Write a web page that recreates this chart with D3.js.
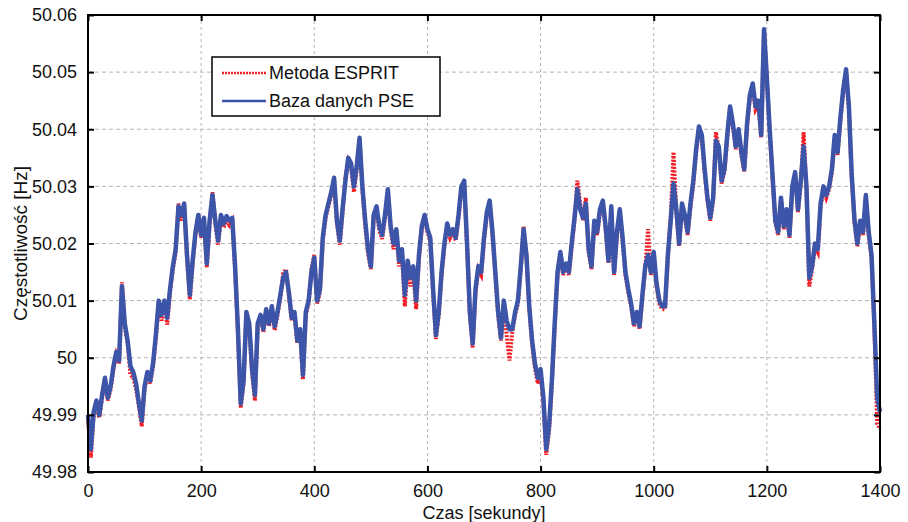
<!DOCTYPE html>
<html>
<head>
<meta charset="utf-8">
<script src="https://cdn.jsdelivr.net/npm/d3@7"></script>
<style>
  body { margin: 0; background: #fff; }
  svg { display: block; font-family: "Liberation Sans", Arial, sans-serif; }
</style>
</head>
<body>
<svg id="chart" width="908" height="522"></svg>
<script>
// czas co 5 s, od 0 do 1400
const timeStep = 5;

// Baza danych PSE [Hz]
const pseValues = [
  49.9900, 49.9840, 49.9905, 49.9925, 49.9900, 49.9935, 49.9965, 49.9930, 49.9950, 49.9985,
  50.0010, 49.9995, 50.0125, 50.0060, 50.0030, 49.9985, 49.9975, 49.9955, 49.9920, 49.9890,
  49.9950, 49.9975, 49.9960, 49.9990, 50.0040, 50.0100, 50.0075, 50.0100, 50.0070, 50.0120,
  50.0160, 50.0190, 50.0265, 50.0250, 50.0270, 50.0180, 50.0110, 50.0170, 50.0220, 50.0250,
  50.0215, 50.0245, 50.0165, 50.0240, 50.0285, 50.0240, 50.0205, 50.0250, 50.0235, 50.0248,
  50.0240, 50.0245, 50.0160, 50.0050, 49.9920, 49.9960, 50.0080, 50.0060, 49.9980, 49.9935,
  50.0060, 50.0075, 50.0050, 50.0085, 50.0060, 50.0090, 50.0055, 50.0080, 50.0110, 50.0140,
  50.0150, 50.0115, 50.0070, 50.0080, 50.0030, 50.0050, 49.9970, 50.0080, 50.0100, 50.0150,
  50.0175, 50.0100, 50.0120, 50.0210, 50.0250, 50.0270, 50.0290, 50.0315, 50.0240, 50.0205,
  50.0260, 50.0310, 50.0350, 50.0340, 50.0300, 50.0335, 50.0385, 50.0300, 50.0240, 50.0190,
  50.0160, 50.0250, 50.0265, 50.0230, 50.0215, 50.0250, 50.0295, 50.0230, 50.0200, 50.0225,
  50.0170, 50.0190, 50.0110, 50.0170, 50.0140, 50.0160, 50.0100, 50.0180, 50.0230, 50.0250,
  50.0225, 50.0210, 50.0120, 50.0040, 50.0080, 50.0150, 50.0200, 50.0235, 50.0215, 50.0225,
  50.0210, 50.0250, 50.0300, 50.0310, 50.0200, 50.0080, 50.0025, 50.0120, 50.0160, 50.0150,
  50.0210, 50.0255, 50.0275, 50.0220, 50.0150, 50.0080, 50.0035, 50.0100, 50.0065, 50.0050,
  50.0050, 50.0080, 50.0100, 50.0160, 50.0225, 50.0180, 50.0090, 50.0030, 49.9990, 49.9965,
  49.9980, 49.9930, 49.9840, 49.9880, 49.9960, 50.0060, 50.0150, 50.0185, 50.0150, 50.0165,
  50.0150, 50.0200, 50.0245, 50.0295, 50.0260, 50.0245, 50.0270, 50.0190, 50.0160, 50.0240,
  50.0220, 50.0260, 50.0275, 50.0230, 50.0170, 50.0265, 50.0150, 50.0220, 50.0260, 50.0210,
  50.0150, 50.0120, 50.0095, 50.0060, 50.0080, 50.0055, 50.0110, 50.0160, 50.0180, 50.0150,
  50.0185, 50.0130, 50.0100, 50.0090, 50.0090, 50.0180, 50.0240, 50.0305, 50.0260, 50.0200,
  50.0270, 50.0250, 50.0220, 50.0270, 50.0310, 50.0365, 50.0405, 50.0390, 50.0330, 50.0280,
  50.0245, 50.0280, 50.0380, 50.0370, 50.0310, 50.0330, 50.0390, 50.0440, 50.0410, 50.0370,
  50.0400, 50.0360, 50.0330, 50.0410, 50.0460, 50.0480, 50.0440, 50.0450, 50.0390, 50.0575,
  50.0490, 50.0400, 50.0320, 50.0240, 50.0220, 50.0280, 50.0230, 50.0260, 50.0215, 50.0300,
  50.0325, 50.0260, 50.0310, 50.0370, 50.0300, 50.0140, 50.0160, 50.0200, 50.0190, 50.0270,
  50.0300, 50.0285, 50.0300, 50.0330, 50.0390, 50.0360, 50.0420, 50.0470, 50.0505, 50.0440,
  50.0320, 50.0240, 50.0200, 50.0240, 50.0220, 50.0285, 50.0220, 50.0180, 50.0060, 49.9930,
  49.9905
];

// Metoda ESPRIT [Hz]
const espritValues = [
  49.9895, 49.9825, 49.9900, 49.9915, 49.9895, 49.9930, 49.9960, 49.9925, 49.9945, 49.9980,
  50.0005, 49.9990, 50.0132, 50.0055, 50.0025, 49.9970, 49.9965, 49.9945, 49.9915, 49.9880,
  49.9945, 49.9970, 49.9955, 49.9985, 50.0035, 50.0095, 50.0065, 50.0095, 50.0058, 50.0115,
  50.0155, 50.0185, 50.0270, 50.0240, 50.0265, 50.0175, 50.0102, 50.0165, 50.0215, 50.0245,
  50.0210, 50.0240, 50.0158, 50.0235, 50.0290, 50.0235, 50.0198, 50.0245, 50.0228, 50.0240,
  50.0232, 50.0240, 50.0155, 50.0045, 49.9912, 49.9955, 50.0075, 50.0055, 49.9975, 49.9925,
  50.0055, 50.0070, 50.0045, 50.0080, 50.0055, 50.0085, 50.0048, 50.0075, 50.0105, 50.0148,
  50.0155, 50.0110, 50.0065, 50.0072, 50.0025, 50.0045, 49.9962, 50.0075, 50.0095, 50.0155,
  50.0180, 50.0095, 50.0115, 50.0205, 50.0245, 50.0265, 50.0285, 50.0310, 50.0235, 50.0198,
  50.0255, 50.0315, 50.0345, 50.0335, 50.0290, 50.0330, 50.0380, 50.0295, 50.0232, 50.0182,
  50.0155, 50.0245, 50.0260, 50.0222, 50.0208, 50.0245, 50.0290, 50.0225, 50.0190, 50.0218,
  50.0160, 50.0182, 50.0090, 50.0160, 50.0125, 50.0150, 50.0085, 50.0172, 50.0225, 50.0245,
  50.0220, 50.0205, 50.0115, 50.0033, 50.0075, 50.0145, 50.0195, 50.0228, 50.0210, 50.0220,
  50.0205, 50.0245, 50.0295, 50.0305, 50.0195, 50.0075, 50.0018, 50.0115, 50.0155, 50.0145,
  50.0205, 50.0250, 50.0270, 50.0215, 50.0145, 50.0075, 50.0030, 50.0095, 50.0040, 49.9995,
  50.0045, 50.0075, 50.0095, 50.0155, 50.0230, 50.0175, 50.0085, 50.0025, 49.9982, 49.9955,
  49.9972, 49.9922, 49.9830, 49.9872, 49.9955, 50.0055, 50.0145, 50.0180, 50.0145, 50.0160,
  50.0145, 50.0195, 50.0240, 50.0310, 50.0270, 50.0240, 50.0280, 50.0185, 50.0155, 50.0235,
  50.0215, 50.0255, 50.0270, 50.0225, 50.0165, 50.0260, 50.0145, 50.0215, 50.0255, 50.0205,
  50.0145, 50.0115, 50.0090, 50.0055, 50.0075, 50.0050, 50.0105, 50.0155, 50.0225, 50.0145,
  50.0180, 50.0125, 50.0095, 50.0085, 50.0085, 50.0175, 50.0245, 50.0360, 50.0255, 50.0195,
  50.0265, 50.0245, 50.0215, 50.0265, 50.0305, 50.0360, 50.0400, 50.0385, 50.0325, 50.0275,
  50.0240, 50.0275, 50.0395, 50.0365, 50.0305, 50.0325, 50.0385, 50.0435, 50.0405, 50.0365,
  50.0395, 50.0355, 50.0325, 50.0405, 50.0455, 50.0475, 50.0435, 50.0445, 50.0385, 50.0570,
  50.0485, 50.0395, 50.0315, 50.0235, 50.0215, 50.0275, 50.0225, 50.0255, 50.0210, 50.0295,
  50.0320, 50.0255, 50.0305, 50.0395, 50.0295, 50.0125, 50.0155, 50.0195, 50.0185, 50.0265,
  50.0295, 50.0280, 50.0295, 50.0325, 50.0385, 50.0355, 50.0415, 50.0465, 50.0500, 50.0435,
  50.0315, 50.0235, 50.0195, 50.0235, 50.0215, 50.0280, 50.0215, 50.0175, 50.0055, 49.9885,
  49.9875
];

const xTicks = [0, 200, 400, 600, 800, 1000, 1200, 1400];
const yTicks = [49.98, 49.99, 50, 50.01, 50.02, 50.03, 50.04, 50.05, 50.06];
const legendLabels = ["Metoda ESPRIT", "Baza danych PSE"];

const margin = {top: 15, right: 28, bottom: 50, left: 88};
const width = 908, height = 522;
const innerW = width - margin.left - margin.right;
const innerH = height - margin.top - margin.bottom;

const svg = d3.select("#chart");
const g = svg.append("g").attr("transform", `translate(${margin.left},${margin.top})`);

const x = d3.scaleLinear().domain([0, 1400]).range([0, innerW]);
const y = d3.scaleLinear().domain([49.98, 50.06]).range([innerH, 0]);

// siatka
g.append("g")
  .selectAll("line")
  .data(yTicks.slice(1, -1))
  .join("line")
  .attr("x1", 0).attr("x2", innerW)
  .attr("y1", d => y(d)).attr("y2", d => y(d))
  .attr("stroke", "#b4b4b4").attr("stroke-width", 1)
  .attr("stroke-dasharray", "4,3");

g.append("g")
  .selectAll("line")
  .data(xTicks.slice(1, -1))
  .join("line")
  .attr("x1", d => x(d)).attr("x2", d => x(d))
  .attr("y1", 0).attr("y2", innerH)
  .attr("stroke", "#b4b4b4").attr("stroke-width", 1)
  .attr("stroke-dasharray", "3,3");

const toPoints = vals => vals.map((v, i) => [i * timeStep, v]);
const line = d3.line().x(d => x(d[0])).y(d => y(d[1]));

g.append("path")
  .datum(toPoints(espritValues))
  .attr("fill", "none")
  .attr("stroke", "#f21c24")
  .attr("stroke-width", 4)
  .attr("stroke-dasharray", "2,1.5")
  .attr("d", line);

g.append("path")
  .datum(toPoints(pseValues))
  .attr("fill", "none")
  .attr("stroke", "#3d55a8")
  .attr("stroke-width", 4.5)
  .attr("stroke-linejoin", "round")
  .attr("d", line);

// osie
const tickFont = "18px";
const xAxis = g.append("g")
  .attr("transform", `translate(0,${innerH})`)
  .call(d3.axisBottom(x).tickValues(xTicks).tickSize(-6).tickPadding(12).tickFormat(d3.format("d")));
const xAxisTop = g.append("g")
  .call(d3.axisTop(x).tickValues(xTicks).tickSize(-6).tickFormat(""));
const yAxis = g.append("g")
  .call(d3.axisLeft(y).tickValues(yTicks).tickSize(-6).tickPadding(11).tickFormat(d => +d.toFixed(2)));
const yAxisRight = g.append("g")
  .attr("transform", `translate(${innerW},0)`)
  .call(d3.axisRight(y).tickValues(yTicks).tickSize(-6).tickFormat(""));

[xAxis, xAxisTop, yAxis, yAxisRight].forEach(a => {
  a.select(".domain").remove();
  a.selectAll(".tick line").attr("stroke", "#000").attr("stroke-width", 2);
  a.selectAll("text").attr("fill", "#111").style("font-size", tickFont);
});

g.append("rect")
  .attr("width", innerW).attr("height", innerH)
  .attr("fill", "none").attr("stroke", "#000").attr("stroke-width", 2);

// opisy osi
svg.append("text")
  .attr("x", margin.left + innerW / 2).attr("y", 519)
  .attr("text-anchor", "middle")
  .style("font-size", "18px").attr("fill", "#111")
  .text("Czas [sekundy]");

svg.append("text")
  .attr("transform", `translate(27,${margin.top + innerH / 2}) rotate(-90)`)
  .attr("text-anchor", "middle")
  .style("font-size", "19px").attr("fill", "#111")
  .text("Częstotliwość [Hz]");

// legenda
const legend = svg.append("g").attr("transform", "translate(212,57)");
legend.append("rect")
  .attr("width", 228).attr("height", 59)
  .attr("fill", "#fff").attr("stroke", "#000").attr("stroke-width", 1.5);

const legendStyles = [
  {color: "#f21c24", dash: "2,1", w: 2.5},
  {color: "#3d55a8", dash: null, w: 2.5}
];
legendLabels.forEach((lab, i) => {
  const ly = 16 + i * 28;
  legend.append("line")
    .attr("x1", 10).attr("x2", 54).attr("y1", ly).attr("y2", ly)
    .attr("stroke", legendStyles[i].color)
    .attr("stroke-width", legendStyles[i].w)
    .attr("stroke-dasharray", legendStyles[i].dash);
  legend.append("text")
    .attr("x", 57).attr("y", ly).attr("dy", "0.35em")
    .style("font-size", "18px").attr("fill", "#111")
    .text(lab);
});
</script>
</body>
</html>
